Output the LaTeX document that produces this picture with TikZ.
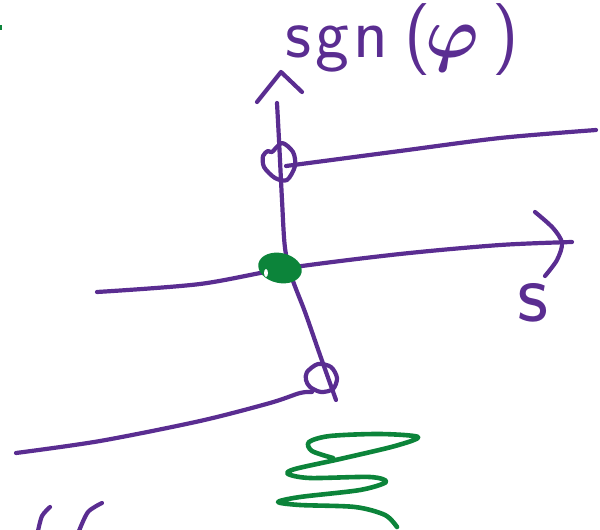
\RequirePackage{fix-cm}
\documentclass[tikz,border=0pt]{standalone}
\usepackage{amsmath}
\definecolor{ink}{RGB}{90,45,145}
\definecolor{pen}{RGB}{12,132,58}
\tikzset{
  stroke/.style={draw=ink, line width=4.2pt, line cap=round, line join=round},
  gstroke/.style={draw=pen, line width=4.6pt, line cap=round, line join=round},
  hand/.style={text=ink, inner sep=0pt, font=\fontsize{72}{72}\selectfont\sffamily},
}
\begin{document}
\begin{tikzpicture}[x=1pt,y=-1pt]
\useasboundingbox (0,0) rectangle (600,530);

% vertical axis with its chevron tip
\coordinate (vtop) at (277,103);
\coordinate (vbot) at (336,400);
\draw[stroke] plot[smooth] coordinates {(vtop) (279,140) (282,200) (285,248) (292,278) (305,312) (320,355) (vbot)};
\draw[stroke] (257,102) -- (281,72) -- (302,92);

% axis label
\node[hand, anchor=base west] (lab) at (285,57) {s\hspace{4pt}g\hspace{5pt}n\hspace{16pt}(\hspace{-6pt}$\boldsymbol{\varphi}$\hspace{14pt})};

% horizontal axis with its tip and label
\coordinate (hl) at (97,292);
\coordinate (hr) at (572,242);
\draw[stroke] plot[smooth] coordinates {(hl) (200,284) (288,268) (400,254) (500,245) (hr)};
\draw[stroke] plot[smooth] coordinates {(535,212) (553,228) (562,243) (557,260) (545,276)};
\node[hand, anchor=base west, font=\fontsize{86}{86}\selectfont\sffamily] (slab) at (517,321) {s};

% upper branch and its open marker
\draw[stroke] plot[smooth] coordinates {(286,166) (400,151) (500,138) (596,130)};
\draw[stroke] plot[smooth cycle] coordinates {(272,152) (282,143) (293,152) (295,166) (287,180) (275,178) (264,167) (263,156) (268,151)};

% lower branch and its open marker
\draw[stroke] plot[smooth] coordinates {(16,453) (100,441) (200,421) (270,403) (300,393) (312,392)};
\draw[stroke] plot[smooth cycle] coordinates {(307,372) (318,364) (331,367) (337,378) (333,389) (321,392) (310,387) (306,380)};

% filled point at the origin
\fill[pen, rotate around={-12:(280,268)}] (280,268) ellipse [x radius=22, y radius=15];
\fill[white] (266,273) ellipse [x radius=2, y radius=4];

% zigzag spring below
\draw[gstroke] plot[smooth] coordinates {(333,458) (312,451) (309,442) (330,436) (380,434) (418,437) (395,446) (340,459) (295,469) (288,474) (310,478) (370,477) (386,482) (360,490) (300,497) (278,502) (300,505) (355,507) (385,515) (397,527)};

% partial marks at the edges
\draw[stroke] plot[smooth] coordinates {(50,507) (42,516) (38,531)};
\draw[stroke] plot[smooth] coordinates {(102,503) (88,512) (79,531)};
\fill[pen] (0,25) rectangle (1.5,30);
\end{tikzpicture}
\end{document}
